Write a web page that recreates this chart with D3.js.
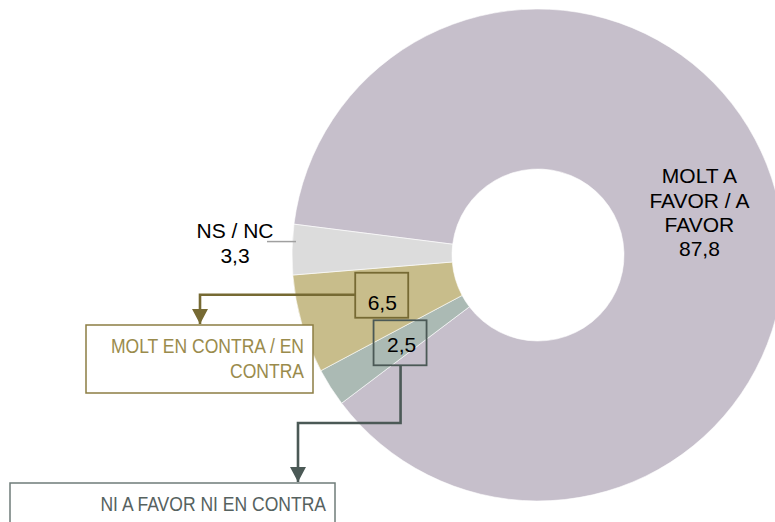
<!DOCTYPE html>
<html>
<head>
<meta charset="utf-8">
<script src="https://cdn.jsdelivr.net/npm/d3@7"></script>
<style>
  body { margin: 0; background: #fff; }
  text { font-family: "Liberation Sans", Arial, sans-serif; }
</style>
</head>
<body>
<svg width="775" height="522"></svg>
<script>
"use strict";

// data, in drawing order (clockwise)
const categories = ['MOLT A FAVOR / A FAVOR', 'NI A FAVOR NI EN CONTRA', 'MOLT EN CONTRA / EN CONTRA', 'NS / NC'];
const values = [87.8, 2.5, 6.5, 3.3];
const valueLabels = ['87,8', '2,5', '6,5', '3,3'];
const colors = ['#c6bfcb', '#abbab4', '#c8bd8b', '#dcdcdc'];

const svg = d3.select('svg');
const cx = 538;
const cy = 255;
const outerRadius = 246;
const innerRadius = 86;
const startAngle = 277.2 * Math.PI / 180;

const g = svg.append('g')
    .attr('transform', `translate(${cx}, ${cy})`);

const pie = d3.pie()
    .sort(null)
    .startAngle(startAngle)
    .endAngle(startAngle + 2 * Math.PI);

const arc = d3.arc()
    .innerRadius(innerRadius)
    .outerRadius(outerRadius);

const arcs = pie(values);

g.selectAll('path.slice')
    .data(arcs)
    .join('path')
    .attr('class', 'slice')
    .attr('d', arc)
    .attr('fill', (d, i) => colors[i])
    .attr('stroke', '#fff')
    .attr('stroke-width', 0.6);

// arrowheads
const defs = svg.append('defs');
[['olive', '#766a33'], ['slate', '#4b5956']].forEach(([id, c]) => {
    defs.append('marker')
        .attr('id', 'arrow-' + id)
        .attr('markerUnits', 'userSpaceOnUse')
        .attr('viewBox', '0 0 16 15')
        .attr('refX', 8).attr('refY', 15)
        .attr('markerWidth', 16).attr('markerHeight', 15)
        .attr('orient', 0)
        .append('path')
        .attr('d', 'M0,0 L16,0 L8,15 Z')
        .attr('fill', c);
});

// big slice label
const bigC = arc.centroid(arcs[0]);
const bigLines = ['MOLT A', 'FAVOR / A', 'FAVOR', valueLabels[0]];
const lineH = 24.3;
g.append('text')
    .attr('text-anchor', 'middle')
    .attr('font-size', 21)
    .attr('fill', '#000')
    .selectAll('tspan')
    .data(bigLines)
    .join('tspan')
    .attr('x', bigC[0] + 1)
    .attr('y', (d, i) => bigC[1] + (i - 1.5) * lineH + 7.5)
    .text(d => d);

// NS / NC label with leader
const nsMid = (arcs[3].startAngle + arcs[3].endAngle) / 2;
const nsY = -outerRadius * Math.cos(nsMid) - 8;
g.append('line')
    .attr('x1', -outerRadius - 25).attr('x2', -outerRadius + 4)
    .attr('y1', nsY).attr('y2', nsY)
    .attr('stroke', '#a0a0a0')
    .attr('stroke-width', 1.5);
g.append('text')
    .attr('text-anchor', 'middle')
    .attr('font-size', 21)
    .selectAll('tspan')
    .data([categories[3], valueLabels[3]])
    .join('tspan')
    .attr('x', -outerRadius - 57)
    .attr('y', (d, i) => nsY - 4 + i * 25)
    .text(d => d);

// value boxes on the small slices
const boxW = 53;
const boxH = 45;
const boxes = [
    { i: 2, dx: 3, dy: -6.5, line: '#766a33', text: '#9a8b4c', marker: 'olive' },
    { i: 1, dx: 2, dy: -1.5, line: '#4b5956', text: '#56625f', marker: 'slate' }
];

boxes.forEach(b => {
    const c = arc.centroid(arcs[b.i]);
    const bx = c[0] + b.dx - boxW / 2;
    const by = c[1] + b.dy - boxH / 2;
    g.append('rect')
        .attr('x', bx).attr('y', by)
        .attr('width', boxW).attr('height', boxH)
        .attr('fill', 'none')
        .attr('stroke', b.line)
        .attr('stroke-width', 1.8);
    g.append('text')
        .attr('x', c[0] + 3.5)
        .attr('y', c[1] + 8)
        .attr('text-anchor', 'middle')
        .attr('font-size', 21)
        .text(valueLabels[b.i]);
    b.box = [bx, by];
});

// connector: 6,5 box -> category box
const b65 = boxes[0].box;
g.append('path')
    .attr('d', `M${b65[0]},${b65[1] + 22} H${200 - cx} V${324 - cy}`)
    .attr('fill', 'none')
    .attr('stroke', boxes[0].line)
    .attr('stroke-width', 2.6)
    .attr('marker-end', 'url(#arrow-olive)');

// connector: 2,5 box -> category box
const b25 = boxes[1].box;
g.append('path')
    .attr('d', `M${b25[0] + 27},${b25[1] + boxH} V${423 - cy} H${298 - cx} V${482 - cy}`)
    .attr('fill', 'none')
    .attr('stroke', boxes[1].line)
    .attr('stroke-width', 2.6)
    .attr('marker-end', 'url(#arrow-slate)');

// category callout boxes
const callouts = [
    { x: 86, y: 325, w: 227, h: 68, lines: ['MOLT EN CONTRA / EN', 'CONTRA'], stroke: '#8c7d43', fill: '#9a8b4c' },
    { x: 10, y: 483, w: 325, h: 60, lines: [categories[1]], stroke: '#6f7c79', fill: '#56625f' }
];

callouts.forEach(c => {
    svg.append('rect')
        .attr('x', c.x).attr('y', c.y)
        .attr('width', c.w).attr('height', c.h)
        .attr('fill', '#fff')
        .attr('stroke', c.stroke)
        .attr('stroke-width', 1.5);
    c.lines.forEach((t, i) => {
        svg.append('text')
            .attr('transform', `translate(${c.x + c.w - 9}, ${c.y + 28 + i * 25}) scale(0.835, 1)`)
            .attr('text-anchor', 'end')
            .attr('font-size', 21)
            .attr('fill', c.fill)
            .text(t);
    });
});
</script>
</body>
</html>
